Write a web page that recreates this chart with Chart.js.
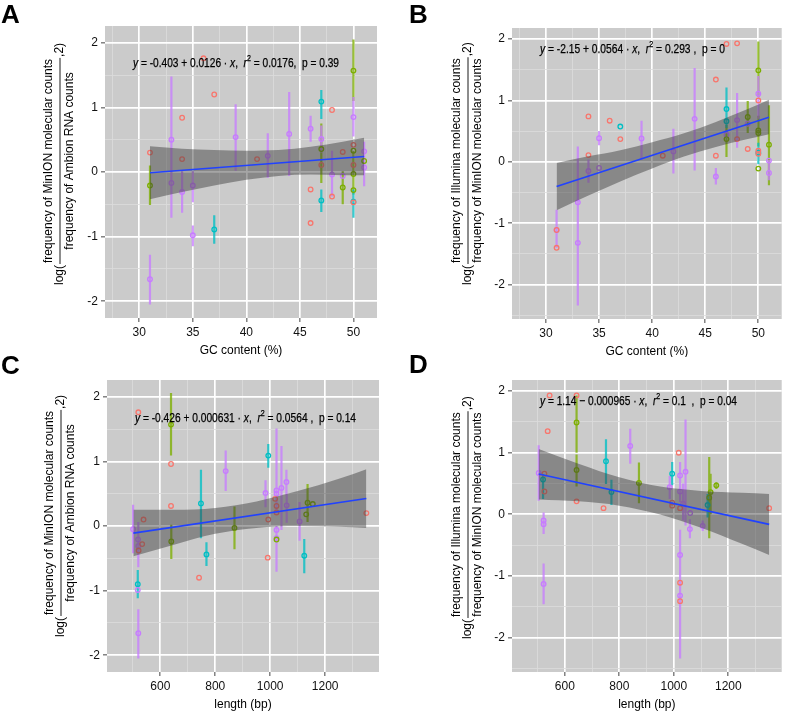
<!DOCTYPE html>
<html><head><meta charset="utf-8">
<script src="https://cdn.jsdelivr.net/npm/chart.js@4.4.1/dist/chart.umd.min.js"></script>
<style>
html,body{margin:0;padding:0;background:#fff;}
#wrap{position:relative;width:787px;height:714px;overflow:hidden;background:#fff;}
canvas{position:absolute;}
.lab{position:absolute;font:bold 26px 'Liberation Sans',Arial,sans-serif;line-height:26px;color:#000;}
</style></head><body>
<div id="wrap">
<canvas id="cA" width="393" height="357" style="left:0;top:0"></canvas>
<canvas id="cB" width="394" height="357" style="left:393px;top:0"></canvas>
<canvas id="cC" width="393" height="357" style="left:0;top:357px"></canvas>
<canvas id="cD" width="394" height="357" style="left:393px;top:357px"></canvas>
<div class="lab" style="left:1px;top:1px">A</div>
<div class="lab" style="left:409px;top:1px">B</div>
<div class="lab" style="left:1px;top:352px">C</div>
<div class="lab" style="left:409px;top:351px">D</div>
</div>
<script>
// ---------- tick / grid values ----------
const GC_major = [30, 35, 40, 45, 50];
const GC_minor = [27.5, 32.5, 37.5, 42.5, 47.5];
const LEN_major = [600, 800, 1000, 1200];
const LEN_minor = [500, 700, 900, 1100, 1300];
const Y_major = [-2, -1, 0, 1, 2];
const Y_minor_AC = [-1.5, -0.5, 0.5, 1.5];
const Y_minor_BD = [-2.5, -1.5, -0.5, 0.5, 1.5];

// ---------- Panel A: GC content vs log2(MinION / Ambion) ----------
const A_gc  = [31,34,34,36,37,41,46,46,47,48,48,49,50,50,50, 31,47,49,50,50,50,50,51, 37,47,47,50, 31,33,33,34,35,35,39,42,44,46,47,48,49,50,51,51];
const A_val = [0.30,0.84,0.20,1.76,1.20,0.20,-0.27,-0.79,0.11,0.96,-0.38,0.31,0.42,0.11,-0.47, -0.21,0.355,-0.24,1.57,0.33,-0.03,-0.28,0.17, -0.89,1.09,-0.44,-0.46, -1.66,0.50,-0.17,-0.31,-0.21,-0.98,0.54,0.25,0.59,0.67,0.51,-0.04,-0.06,0.85,0.32,0.07];
const A_grp = 'RRRRRRRRRRRRRRR'+'GGGGGGGG'+'TTTT'+'PPPPPPPPPPPPPPPP';
const A_lo  = [null,null,null,null,null,null,null,null,null,null,null,null,null,null,null, -0.51,-0.17,-0.50,1.10,null,-0.35,null,null, -1.11,0.82,-0.62,-0.71, -2.05,0.10,-0.71,-0.63,-0.47,-1.15,0.02,-0.09,-0.06,0.47,0.30,-0.38,null,0.55,-0.22,null];
const A_hi  = [null,null,null,null,null,null,null,null,null,null,null,null,null,null,null, 0.10,0.75,0.01,2.05,null,0.33,null,null, -0.67,1.27,-0.27,-0.27, -1.28,1.48,0.10,0.01,0.01,-0.83,1.05,0.60,1.24,0.87,0.72,0.33,null,1.16,0.47,null];
const A_fitX = [31, 51];
const A_fitY = [-0.012, 0.240];
const A_bandX  = [31, 34, 37, 40, 43, 46, 49, 51];
const A_bandLo = [-0.42, -0.31, -0.21, -0.12, -0.06, -0.04, -0.05, -0.05];
const A_bandHi = [0.40, 0.36, 0.34, 0.33, 0.34, 0.39, 0.47, 0.53];

// ---------- Panel B: GC content vs log2(Illumina / MinION) ----------
const B_gc  = [31,31,34,34,36,37,41,46,46,47,48,48,49,50,50,50, 47,49,50,50,50,50,51, 37,47,47,50, 31,33,33,34,35,35,39,42,44,46,47,48,49,50,51,51];
const B_val = [-1.11,-1.40,0.74,0.11,0.67,0.37,0.10,1.34,0.10,1.92,1.93,0.37,0.21,1.00,0.18,0.13, 0.37,0.73,1.49,0.51,0.47,-0.11,0.28, 0.575,0.86,0.66,0.15, -1.11,-0.66,-1.32,-0.15,0.385,-0.10,0.38,0.17,0.70,-0.24,0.44,0.68,0.62,1.11,0.02,-0.18];
const B_grp = 'RRRRRRRRRRRRRRRR'+'GGGGGGG'+'TTTT'+'PPPPPPPPPPPPPPPP';
const B_lo  = [null,null,null,null,null,null,null,null,null,null,null,null,null,null,null,null, 0.08,0.47,1.05,null,0.25,null,-0.38, null,0.55,null,-0.04, -1.40,-1.00,-2.34,-0.34,0.27,null,0.04,-0.19,-0.14,-0.37,null,0.23,null,0.70,null,-0.30];
const B_hi  = [null,null,null,null,null,null,null,null,null,null,null,null,null,null,null,null, 0.60,0.99,1.96,null,0.75,null,0.92, null,1.21,null,0.31, -0.78,0.25,-0.66,0.04,0.50,null,0.67,0.54,1.53,-0.10,null,1.12,null,1.40,null,0.03];
const B_fitX = [31, 51];
const B_fitY = [-0.402, 0.726];
const B_bandX  = [31, 34, 37, 40, 43, 46, 49, 51];
const B_bandLo = [-0.79, -0.55, -0.32, -0.11, 0.085, 0.24, 0.37, 0.45];
const B_bandHi = [-0.02, 0.09, 0.19, 0.32, 0.465, 0.65, 0.86, 1.01];

// ---------- Panel C: length vs log2(MinION / Ambion) ----------
const C_len = [520,639,639,539,534,521,741,993,991,1018,1023,1023,1350, 639,640,870,1023,1131,1136,1155, 518,748,768,993,1124, 501,519,520,518,520,838,983,1023,1023,1041,1059,1060,1107,1023,1023];
const C_val = [1.76,0.96,0.31,0.10,-0.28,-0.38,-0.80,0.10,-0.49,0.42,0.31,0.21,0.20, 1.57,-0.24,-0.03,-0.21,0.18,0.36,0.34, -0.90,0.35,-0.44,1.09,-0.46, -0.05,-0.21,-0.31,-0.99,-1.66,0.85,0.51,0.55,0.50,0.59,0.68,0.32,0.07,-0.06,-0.19];
const C_grp = 'RRRRRRRRRRRRR'+'GGGGGGG'+'TTTTT'+'PPPPPPPPPPPPPPP';
const C_lo  = [null,null,null,null,null,null,null,null,null,null,null,null,null, 1.09,-0.51,-0.36,null,null,0.06,null, -1.12,-0.19,-0.62,0.90,-0.73, -0.42,null,-0.64,null,-2.05,0.54,0.29,0.20,null,-0.06,0.47,0.05,-0.23,null,-0.71];
const C_hi  = [null,null,null,null,null,null,null,null,null,null,null,null,null, 2.06,0.02,0.30,null,null,0.65,null, -0.68,0.87,-0.25,1.27,-0.20, 0.33,null,0.06,null,-1.29,1.17,0.71,1.51,null,1.24,0.87,0.49,0.37,null,0.00];
const C_fitX = [502, 1350];
const C_fitY = [-0.109, 0.426];
const C_bandX  = [502, 650, 800, 950, 1100, 1250, 1350];
const C_bandLo = [-0.47, -0.29, -0.12, -0.03, 0.00, -0.01, -0.03];
const C_bandHi = [0.25, 0.25, 0.28, 0.38, 0.54, 0.73, 0.88];

// ---------- Panel D: length vs log2(Illumina / MinION) ----------
const D_len = [544,643,537,525,525,643,742,994,994,1018,1023,1023,1023,1350, 643,643,872,1130,1135,1156, 520,751,771,994,1124, 504,522,522,522,840,985,1023,1023,1023,1023,1034,1043,1060,1059,1106];
const D_val = [1.93,1.93,1.35,0.66,0.37,0.21,0.10,0.19,0.14,1.00,0.10,-1.11,-1.41,0.10, 1.49,0.72,0.51,0.27,0.36,0.47, 0.565,0.86,0.36,0.66,0.15, 0.67,-0.10,-0.16,-1.13,1.11,0.44,0.63,0.37,-0.66,-1.32,0.17,0.69,0.02,-0.24,-0.19];
const D_grp = 'RRRRRRRRRRRRRR'+'GGGGGG'+'TTTTT'+'PPPPPPPPPPPPPPP';
const D_lo  = [null,null,null,null,null,null,null,null,null,null,null,null,null,null, 1.00,0.45,0.18,-0.39,0.00,0.41, 0.25,0.49,0.15,0.47,-0.05, 0.22,-0.20,-0.32,-1.46,0.82,0.25,0.20,null,-1.00,-2.34,-0.10,-0.18,null,-0.39,-0.27];
const D_hi  = [null,null,null,null,null,null,null,null,null,null,null,null,null,null, 1.93,0.97,0.84,0.93,0.66,0.52, 0.65,1.22,0.56,0.85,0.33, 1.12,0.03,-0.05,-0.80,1.39,0.62,0.85,null,-0.25,-0.66,0.50,1.54,null,-0.08,-0.10];
const D_fitX = [504, 1350];
const D_fitY = [0.654, -0.163];
const D_bandX  = [504, 650, 800, 950, 1100, 1250, 1350];
const D_bandLo = [0.24, 0.21, 0.14, -0.005, -0.22, -0.48, -0.66];
const D_bandHi = [1.06, 0.82, 0.60, 0.45, 0.38, 0.35, 0.33];

// ---------- styling ----------
const FAM = "'Liberation Sans', Arial, Helvetica, sans-serif";
Chart.defaults.font.family = FAM;
const COL = {R:'#F8766D', G:'#7CAE00', T:'#00BFC4', P:'#C77CFF'};
const BAR = {R:'rgba(248,118,109,0.75)', G:'rgba(124,174,0,0.78)', T:'rgba(0,191,196,0.78)', P:'rgba(199,124,255,0.78)'};
const PT_ORDER = {R:2, G:3, T:4, P:5};

function buildDatasets(xs, ys, grp, lo, hi, fitX, fitY, bx, blo, bhi) {
  const ds = [];
  ds.push({data: fitX.map((x,i)=>({x, y: fitY[i]})), borderColor:'#2142FF', borderWidth:1.7,
           pointRadius:0, showLine:true, fill:false, order:0});
  ds.push({data: bx.map((x,i)=>({x, y: blo[i]})), borderColor:'rgba(0,0,0,0)', borderWidth:0,
           pointRadius:0, showLine:true, fill:false, order:1, cubicInterpolationMode:'monotone'});
  ds.push({data: bx.map((x,i)=>({x, y: bhi[i]})), borderColor:'rgba(0,0,0,0)', borderWidth:0,
           pointRadius:0, showLine:true, fill:1, backgroundColor:'rgba(55,55,55,0.45)', order:1,
           cubicInterpolationMode:'monotone'});
  for (const g of ['P','T','G','R']) {
    const bars = [];
    xs.forEach((x,i)=>{ if (grp[i]===g && lo[i]!==null) { bars.push({x, y:lo[i]}, {x, y:hi[i]}, {x, y:null}); } });
    if (bars.length) ds.push({data: bars, borderColor: BAR[g], borderWidth:2.2, pointRadius:0,
                              showLine:true, spanGaps:false, fill:false, order:6, borderCapStyle:'butt'});
  }
  for (const g of ['R','G','T','P']) {
    const pts = [];
    xs.forEach((x,i)=>{ if (grp[i]===g) pts.push({x, y: ys[i]}); });
    ds.push({data: pts, showLine:false, pointRadius:2.3, pointBorderWidth:1.3,
             pointBorderColor: COL[g], pointBackgroundColor:'rgba(0,0,0,0)', order: PT_ORDER[g]});
  }
  return ds;
}

function makeScale(axis, min, max, major, minor, fitSize) {
  const all = major.concat(minor).sort((a,b)=>a-b);
  const isMaj = v => major.indexOf(v) >= 0;
  return {
    type:'linear', min, max,
    afterBuildTicks: s => { s.ticks = all.map(v => ({value: v})); },
    afterFit: s => { if (axis === 'x') s.height = fitSize; else s.width = fitSize; },
    border: {display:false},
    grid: {
      color: c => (c.tick && isMaj(c.tick.value)) ? '#FFFFFF' : '#DCDCDC',
      lineWidth: c => (c.tick && isMaj(c.tick.value)) ? 1.7 : 0.8,
      drawTicks: true, tickLength: 4, tickWidth: 1,
      tickColor: c => (c.tick && isMaj(c.tick.value)) ? '#444' : 'rgba(0,0,0,0)'
    },
    ticks: {autoSkip:false, maxRotation:0, minRotation:0, padding: 3, color:'#111',
            font:{family:FAM, size:12}, callback: v => isMaj(v) ? String(v) : ''}
  };
}

function drawYTitle(ctx, cx, bottomY, num, den) {
  ctx.save();
  ctx.translate(cx, bottomY);
  ctx.rotate(-Math.PI/2);
  ctx.font = '12px ' + FAM;
  ctx.fillStyle = '#000';
  ctx.textBaseline = 'middle';
  ctx.textAlign = 'left';
  const w0 = ctx.measureText('log(').width;
  ctx.fillText('log(', 0, 0);
  const fw = Math.max(ctx.measureText(num).width, ctx.measureText(den).width) + 2;
  const fx = w0 + 1;
  ctx.textAlign = 'center';
  ctx.fillText(num, fx + fw/2, -11);
  ctx.fillText(den, fx + fw/2, 10);
  ctx.beginPath(); ctx.moveTo(fx, 0); ctx.lineTo(fx + fw, 0);
  ctx.lineWidth = 0.9; ctx.strokeStyle = '#000'; ctx.stroke();
  ctx.textAlign = 'left';
  ctx.fillText(',2)', fx + fw + 1, 0);
  ctx.restore();
}

function drawEq(ctx, x0, yc, x1, pieces) {
  const base = 12.5;
  const fontOf = s => s === 'i' ? 'italic ' + base + 'px ' + FAM : s === 's' ? (base*0.7) + 'px ' + FAM : base + 'px ' + FAM;
  ctx.save();
  ctx.textBaseline = 'middle'; ctx.textAlign = 'left'; ctx.fillStyle = '#000';
  ctx.strokeStyle = '#000'; ctx.lineWidth = 0.25;
  let total = 0; const ws = [];
  for (const [t, s] of pieces) { ctx.font = fontOf(s); const w = ctx.measureText(t).width; ws.push(w); total += w; }
  const sx = (x1 - x0) / total;
  ctx.translate(x0, yc); ctx.scale(sx, 1);
  let cx = 0;
  pieces.forEach(([t, s], i) => {
    ctx.font = fontOf(s);
    const yy = s === 's' ? -5 : 0;
    ctx.fillText(t, cx, yy); ctx.strokeText(t, cx, yy);
    cx += ws[i];
  });
  ctx.restore();
}

function makeChart(id, cfg) {
  const textPlugin = {
    id: 'txt' + id,
    beforeDraw(chart) {
      const {ctx, chartArea: a} = chart;
      ctx.save(); ctx.fillStyle = '#CBCBCB'; ctx.fillRect(a.left, a.top, a.right - a.left, a.bottom - a.top); ctx.restore();
    },
    afterDraw(chart) {
      const ctx = chart.ctx, a = chart.chartArea;
      drawYTitle(ctx, cfg.yt[0], cfg.yt[1], cfg.num, cfg.den);
      drawEq(ctx, cfg.eq[0], cfg.eq[1], cfg.eq[2], cfg.pieces);
      ctx.save();
      ctx.font = '12px ' + FAM; ctx.fillStyle = '#000'; ctx.textAlign = 'center'; ctx.textBaseline = 'middle';
      ctx.fillText(cfg.xtitle, (a.left + a.right)/2, cfg.xtY);
      ctx.restore();
    }
  };
  return new Chart(document.getElementById(id), {
    type: 'line',
    data: {datasets: cfg.datasets},
    options: {
      responsive:false, animation:false, devicePixelRatio:1,
      layout: {padding: {left:0, top: cfg.pad[0], right: cfg.pad[1], bottom:0}},
      plugins: {legend:{display:false}, tooltip:{enabled:false}},
      scales: {x: cfg.x, y: cfg.y}
    },
    plugins: [textPlugin]
  });
}

makeChart('cA', {
  datasets: buildDatasets(A_gc, A_val, A_grp, A_lo, A_hi, A_fitX, A_fitY, A_bandX, A_bandLo, A_bandHi),
  x: makeScale('x', 26.8, 52.2, GC_major, GC_minor, 39),
  y: makeScale('y', -2.26, 2.26, Y_major, Y_minor_AC, 105),
  pad: [26, 16],
  yt: [60, 285], num: 'frequency of MinION molecular counts', den: 'frequency of Ambion RNA counts',
  eq: [133, 64, 339],
  pieces: [['y','i'],[' = -0.403 + 0.0126 \u00b7 ','n'],['x','i'],[',  ','n'],['r','i'],['2','s'],[' = 0.0176,  p = 0.39','n']],
  xtitle: 'GC content (%)', xtY: 351
});

makeChart('cB', {
  datasets: buildDatasets(B_gc, B_val, B_grp, B_lo, B_hi, B_fitX, B_fitY, B_bandX, B_bandLo, B_bandHi),
  x: makeScale('x', 26.8, 52.2, GC_major, GC_minor, 38),
  y: makeScale('y', -2.56, 2.18, Y_major, Y_minor_BD, 119),
  pad: [28, 1],
  yt: [75, 285], num: 'frequency of Illumina molecular counts', den: 'frequency of MinION molecular counts',
  eq: [147, 50, 332],
  pieces: [['y','i'],[' = -2.15 + 0.0564 \u00b7 ','n'],['x','i'],[',  ','n'],['r','i'],['2','s'],[' = 0.293 ,  p = 0','n']],
  xtitle: 'GC content (%)', xtY: 352
});

makeChart('cC', {
  datasets: buildDatasets(C_len, C_val, C_grp, C_lo, C_hi, C_fitX, C_fitY, C_bandX, C_bandLo, C_bandHi),
  x: makeScale('x', 406, 1396, LEN_major, LEN_minor, 42),
  y: makeScale('y', -2.26, 2.26, Y_major, Y_minor_AC, 107),
  pad: [23, 14],
  yt: [61, 280], num: 'frequency of MinION molecular counts', den: 'frequency of Ambion RNA counts',
  eq: [135, 62, 356],
  pieces: [['y','i'],[' = -0.426 + 0.000631 \u00b7 ','n'],['x','i'],[',  ','n'],['r','i'],['2','s'],[' = 0.0564 ,  p = 0.14','n']],
  xtitle: 'length (bp)', xtY: 348
});

makeChart('cD', {
  datasets: buildDatasets(D_len, D_val, D_grp, D_lo, D_hi, D_fitX, D_fitY, D_bandX, D_bandLo, D_bandHi),
  x: makeScale('x', 406, 1396, LEN_major, LEN_minor, 42),
  y: makeScale('y', -2.56, 2.18, Y_major, Y_minor_BD, 119),
  pad: [23, 1],
  yt: [75, 282], num: 'frequency of Illumina molecular counts', den: 'frequency of MinION molecular counts',
  eq: [147, 45, 344],
  pieces: [['y','i'],[' = 1.14 \u2212 0.000965 \u00b7 ','n'],['x','i'],[',  ','n'],['r','i'],['2','s'],[' = 0.1  ,  p = 0.04','n']],
  xtitle: 'length (bp)', xtY: 348
});
</script>
</body></html>
